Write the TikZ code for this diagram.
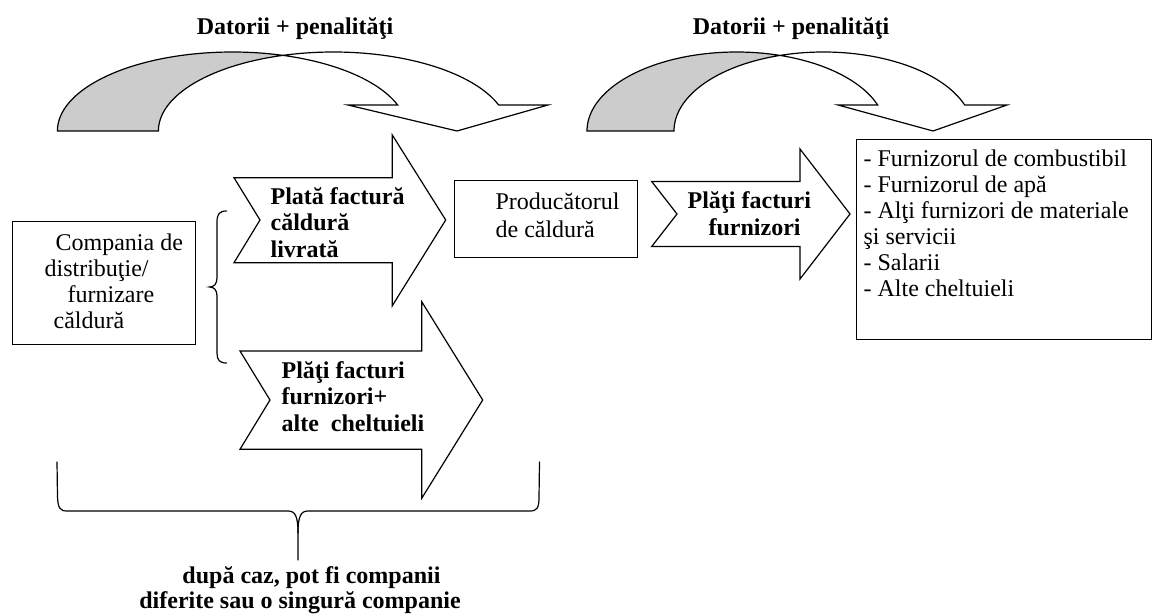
\documentclass[tikz,border=0pt]{standalone}
\usepackage{fontspec}
\setmainfont[Ligatures=NoCommon]{Liberation Serif}
\definecolor{backband}{RGB}{204,204,204}
\begin{document}
\begin{tikzpicture}[x=1pt,y=-1pt,
  line width=1.2pt,
  lbl/.style={anchor=base west, inner sep=0pt, font=\fontsize{24}{26}\selectfont},
  blbl/.style={anchor=base west, inner sep=0pt, font=\fontsize{24}{26}\selectfont\bfseries},
  clbl/.style={anchor=base, inner sep=0pt, font=\fontsize{24}{26}\selectfont\bfseries},
  box/.style={draw, line width=1.3pt, inner sep=0pt, anchor=north west},
  band/.style={draw, line width=1.2pt, line join=miter},
  blockarrow/.style={draw, fill=white, line width=1.2pt, line join=miter},
  brace/.style={draw, line width=1.2pt, line cap=round}
]
\useasboundingbox (0,0) rectangle (1153,615);

% ---------- curved arrow: debts + penalties (left) ----------
\filldraw[band, fill=backband]
  plot[domain=180:73.2, samples=70] ({232.4+175*cos(\x)},{131-79*sin(\x)})
  -- plot[domain=106.8:180, samples=70] ({333.4+175*cos(\x)},{131-79*sin(\x)})
  -- cycle;
\filldraw[band, fill=white]
  plot[domain=106.8:19.2, samples=70] ({333.4+175*cos(\x)},{131-79*sin(\x)})
  -- (548,105) -- (457,131) -- (348,105)
  -- plot[domain=19.2:73.2, samples=50] ({232.4+175*cos(\x)},{131-79*sin(\x)})
  -- cycle;

% ---------- curved arrow: debts + penalties (right) ----------
\filldraw[band, fill=backband]
  plot[domain=180:73.1, samples=70] ({736.5+149.5*cos(\x)},{131-79*sin(\x)})
  -- plot[domain=106.9:180, samples=70] ({823.5+149.5*cos(\x)},{131-79*sin(\x)})
  -- cycle;
\filldraw[band, fill=white]
  plot[domain=106.9:19.2, samples=70] ({823.5+149.5*cos(\x)},{131-79*sin(\x)})
  -- (1007,105) -- (933,131) -- (838,105)
  -- plot[domain=19.2:73.1, samples=50] ({736.5+149.5*cos(\x)},{131-79*sin(\x)})
  -- cycle;

\node[clbl] (debtL) at (295,35) {Datorii + penalităţi};
\node[clbl] (debtR) at (791,35) {Datorii + penalităţi};

% ---------- boxes ----------
\node[box, minimum width=183pt, minimum height=123pt] (comp) at (12,221) {};
\node[box, minimum width=183pt, minimum height=77pt] (prod) at (453.5,179.5) {};
\node[box, minimum width=295pt, minimum height=200pt] (supp) at (856,139) {};

\node[lbl] (comp1) at (55,250) {Compania de};
\node[lbl] (comp2) at (44,276) {distribuţie/};
\node[lbl] (comp3) at (67,302) {furnizare};
\node[lbl] (comp4) at (53,328) {căldură};

\node[lbl] (prod1) at (495,209) {Producătorul};
\node[lbl] (prod2) at (495,237) {de căldură};

\node[lbl] (supp1) at (863,166.5) {- Furnizorul de combustibil};
\node[lbl] (supp2) at (863,192.5) {- Furnizorul de apă};
\node[lbl] (supp3) at (863,218.5) {- Alţi furnizori de materiale};
\node[lbl] (supp4) at (863,244.5) {şi servicii};
\node[lbl] (supp5) at (863,270) {- Salarii};
\node[lbl] (supp6) at (863,296) {- Alte cheltuieli};

% ---------- notched block arrows ----------
\filldraw[blockarrow] (234,177.7) -- (392.3,177.7) -- (392.3,135) -- (445.7,220)
  -- (392.3,305.7) -- (392.3,262.7) -- (234,262.7) -- (260,220) -- cycle;
\node[blbl] (pay1) at (270,204) {Plată factură};
\node[blbl] (pay2) at (270,230.5) {căldură};
\node[blbl] (pay3) at (270,257) {livrată};

\filldraw[blockarrow] (651.7,181.5) -- (800,181.5) -- (800,149) -- (850,214)
  -- (800,279) -- (800,246.5) -- (651.7,246.5) -- (677,214) -- cycle;
\node[blbl] (bill1) at (687,208) {Plăţi facturi};
\node[blbl] (bill2) at (708,235) {furnizori};

\filldraw[blockarrow] (240,351) -- (421.7,351) -- (421.7,301.7) -- (482.7,400)
  -- (421.7,498.3) -- (421.7,449.3) -- (240,449.3) -- (270,400) -- cycle;
\node[blbl] (other1) at (281,378) {Plăţi facturi};
\node[blbl] (other2) at (281,404.5) {furnizori+};
\node[blbl] (other3) at (281,431.5) {alte~~cheltuieli};

% ---------- braces ----------
\draw[brace] (226.5,211) .. controls (219.5,211) and (217,214) .. (217,222)
  -- (217,278) .. controls (217,284) and (214,287) .. (209.5,287)
  .. controls (214,287) and (217,290) .. (217,296)
  -- (217,353) .. controls (217,360) and (219.5,363) .. (226.5,363);

\draw[brace] (57,462) -- (57.5,497) .. controls (58,508) and (60,511) .. (67,511)
  -- (288,511) .. controls (295,511) and (298,516) .. (298,533) -- (298,560);
\draw[brace] (298,533) .. controls (298,516) and (301,511) .. (308,511)
  -- (530,511) .. controls (537,511) and (539,508) .. (539,497) -- (539.5,462);

\node[clbl] (note1) at (311.5,583) {după caz, pot fi companii};
\node[clbl] (note2) at (300,608) {diferite sau o singură companie};
\end{tikzpicture}
\end{document}
